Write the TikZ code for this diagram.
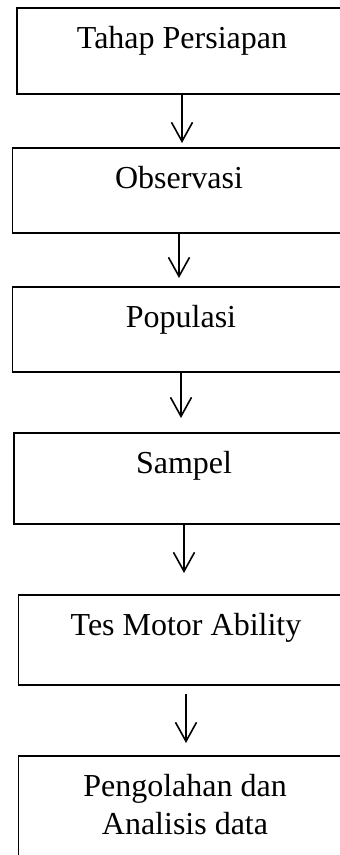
\documentclass[tikz,border=0pt]{standalone}
\usepackage{fontspec}
\setmainfont{Liberation Serif}
\usetikzlibrary{arrows.meta}

\begin{document}
\begin{tikzpicture}[x=1pt, y=-1pt,
                    stepbox/.style={rectangle, draw, line width=1.5pt, anchor=north, outer sep=0pt,
                                    inner ysep=18pt, text height=22pt, align=center,
                                    font=\fontsize{32}{38}\selectfont},
                    flow/.style={-{Straight Barb[length=19pt, width=21pt]}, line width=1.6pt}]

  \useasboundingbox (0,0) rectangle (340,855);
  \clip (0,0) rectangle (340,855);

  % Define steps
  \node[stepbox, minimum width=330pt, text depth=28pt] (prep) at (182,8) {Tahap Persiapan};
  \node[stepbox, minimum width=333pt, text depth=27pt] (obs) at (179,148) {Observasi};
  \node[stepbox, minimum width=337pt, text depth=27pt] (pop) at (181,287) {Populasi};
  \node[stepbox, minimum width=340pt, text depth=33pt] (sampel) at (184,433) {Sampel};
  \node[stepbox, minimum width=335pt, text depth=32pt] (tes) at (186,595) {Tes Motor Ability};
  \node[stepbox, minimum width=333pt, text height=60pt, text depth=80pt] (olah) at (185,756) {Pengolahan dan\\Analisis data};

  % Connections
  \draw[flow, shorten >=5pt] (prep.south) -- (prep.south |- obs.north);
  \draw[flow, shorten >=9pt] (obs.south) -- (obs.south |- pop.north);
  \draw[flow, shorten >=15pt] (pop.south) -- (pop.south |- sampel.north);
  \draw[flow, shorten >=22pt] (sampel.south) -- (sampel.south |- tes.north);
  \draw[flow, shorten <=9pt, shorten >=13pt] (tes.south) -- (tes.south |- olah.north);

\end{tikzpicture}
\end{document}
